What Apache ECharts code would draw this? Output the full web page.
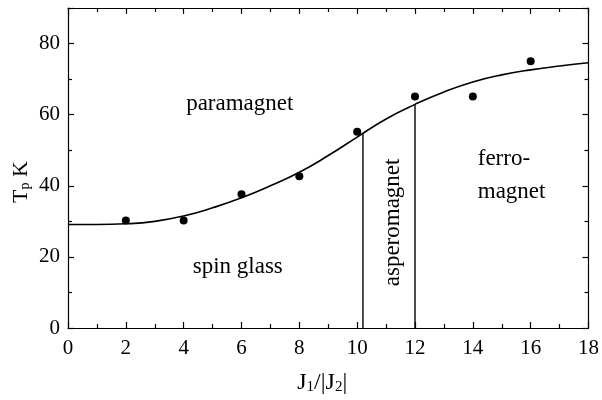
<!DOCTYPE html>
<html>
<head>
<meta charset="utf-8">
<script src="https://cdn.jsdelivr.net/npm/echarts@6/dist/echarts.min.js"></script>
<style>html,body{margin:0;padding:0;background:#fff;}#c{width:602px;height:400px;}</style>
</head>
<body>
<div id="c"></div>
<script>
// ---- data ----
const curveX = [0, 1, 2, 3, 4, 5, 6, 7, 8, 9, 10, 11, 12, 13, 14, 15, 16, 17, 18];
const curveY = [29.1, 29.1, 29.3, 30.0, 31.5, 33.8, 36.6, 40.0, 43.8, 48.5, 53.7, 58.8, 62.9, 66.4, 69.2, 71.2, 72.6, 73.7, 74.6];
const pointX = [2, 4, 6, 8, 10, 12, 14, 16];
const pointY = [30.2, 30.2, 37.6, 42.7, 55.2, 65.1, 65.1, 75.0];
const boundaryX = [10.2, 12];
const boundaryTop = [54.7, 62.9];
const regionNames = ['paramagnet', 'spin glass', 'asperomagnet', 'ferro-\nmagnet'];
const regionX = [5.94, 5.87, 11.23, 14.17];
const regionY = [63.0, 17.2, 29.7, 42.8];
const xTickValues = [0, 2, 4, 6, 8, 10, 12, 14, 16, 18];
const yTickValues = [0, 20, 40, 60, 80];

const FONT = 'Liberation Serif';
const chart = echarts.init(document.getElementById('c'), null, {renderer: 'canvas'});

const baseAxis = {
  type: 'value',
  axisLine: {show: true, onZero: false, lineStyle: {color: '#000', width: 1.2}},
  axisTick: {show: true, inside: true, length: 6, lineStyle: {color: '#000', width: 1.2}},
  minorTick: {show: true, splitNumber: 2, length: 4, lineStyle: {color: '#000', width: 1.2}},
  splitLine: {show: false},
  minorSplitLine: {show: false}
};

const series = [];
series.push({
  type: 'line',
  data: curveX.map((x, i) => [x, curveY[i]]),
  smooth: true,
  showSymbol: false,
  lineStyle: {color: '#000', width: 1.6},
  silent: true,
  z: 3
});
boundaryX.forEach((bx, i) => {
  series.push({
    type: 'line',
    data: [[bx, 0], [bx, boundaryTop[i]]],
    showSymbol: false,
    lineStyle: {color: '#000', width: 1.4},
    silent: true,
    z: 3
  });
});
series.push({
  type: 'scatter',
  data: pointX.map((x, i) => [x, pointY[i]]),
  symbol: 'circle',
  symbolSize: 8,
  itemStyle: {color: '#000', opacity: 1},
  z: 4
});
series.push({
  type: 'scatter',
  data: regionNames.map((n, i) => ({
    value: [regionX[i], regionY[i]],
    name: n,
    label: i === 2 ? {rotate: 90, position: 'inside'} :
           (i === 3 ? {position: 'right', distance: 0, align: 'left', lineHeight: 33} : {position: 'inside'})
  })),
  symbolSize: 0,
  itemStyle: {color: '#000', opacity: 1},
  label: {
    show: true,
    formatter: p => p.name,
    color: '#000',
    opacity: 1,
    fontFamily: FONT,
    fontSize: 23
  },
  silent: true,
  z: 5
});

chart.setOption({
  animation: false,
  backgroundColor: '#fff',
  grid: {left: 68, right: 13, top: 8, bottom: 68},
  xAxis: [
    Object.assign({}, baseAxis, {
      min: 0, max: 18, interval: 2, position: 'bottom',
      axisLabel: {color: '#000', fontFamily: FONT, fontSize: 21, margin: 10,
        formatter: v => (xTickValues.indexOf(v) >= 0 ? String(v) : '')},
      name: '{a|J}{s|1}{a|/|J}{s|2}{a||}',
      nameLocation: 'middle',
      nameGap: 41,
      nameTextStyle: {
        color: '#000',
        padding: [0, 12, 0, 0],
        rich: {
          a: {fontFamily: FONT, fontSize: 24, lineHeight: 26, verticalAlign: 'bottom', color: '#000'},
          s: {fontFamily: FONT, fontSize: 15, lineHeight: 26, verticalAlign: 'bottom', padding: [10, 0, 0, 0], color: '#000'}
        }
      }
    }),
    Object.assign({}, baseAxis, {
      min: 0, max: 18, interval: 2, position: 'top',
      axisLabel: {show: false}
    })
  ],
  yAxis: [
    Object.assign({}, baseAxis, {
      min: 0, max: 90, interval: 20, position: 'left',
      axisLabel: {color: '#000', fontFamily: FONT, fontSize: 21, margin: 8, showMaxLabel: false,
        formatter: v => (yTickValues.indexOf(v) >= 0 ? String(v) : '')}
    }),
    Object.assign({}, baseAxis, {
      min: 0, max: 90, interval: 20, position: 'right',
      axisLabel: {show: false}
    })
  ],
  graphic: [{
    type: 'text',
    x: 20,
    y: 182,
    rotation: Math.PI / 2,
    style: {
      text: '{a|T}{s|p}{a| K}',
      align: 'center',
      verticalAlign: 'middle',
      fill: '#000',
      rich: {
        a: {fontFamily: FONT, fontSize: 22, lineHeight: 24, verticalAlign: 'bottom', fill: '#000'},
        s: {fontFamily: FONT, fontSize: 14, lineHeight: 24, verticalAlign: 'bottom', padding: [9, 0, 0, 0], fill: '#000'}
      }
    }
  }],
  series: series
});
</script>
</body>
</html>
